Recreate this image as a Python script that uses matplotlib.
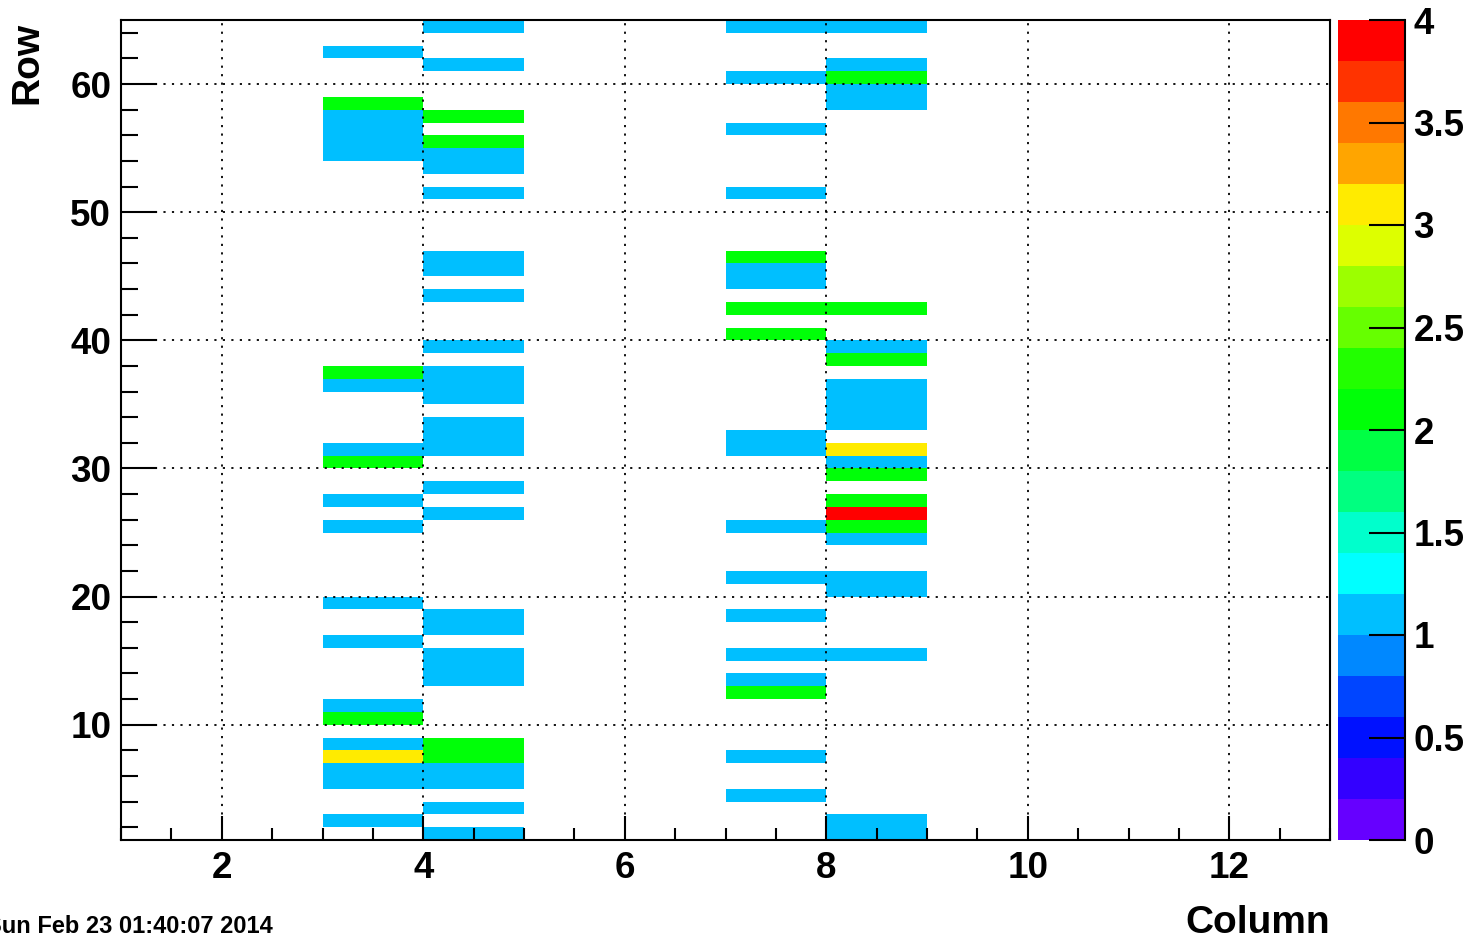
import matplotlib
matplotlib.use("Agg")
import matplotlib.pyplot as plt
import numpy as np
from matplotlib.colors import ListedColormap, BoundaryNorm
from matplotlib.ticker import MultipleLocator

# hits per (column, row) cell
col3_rows = [2, 5, 6, 7, 8, 10, 11, 16, 19, 25, 27, 30, 31, 36, 37, 54, 55, 56, 57, 58, 62]
col3_vals = [1, 1, 1, 3, 1, 2, 1, 1, 1, 1, 1, 2, 1, 1, 2, 1, 1, 1, 1, 2, 1]

col4_rows = [1, 3, 5, 6, 7, 8, 13, 14, 15, 17, 18, 26, 28, 31, 32, 33, 35, 36, 37,
             39, 43, 45, 46, 51, 53, 54, 55, 57, 61, 64]
col4_vals = [1, 1, 1, 1, 2, 2, 1, 1, 1, 1, 1, 1, 1, 1, 1, 1, 1, 1, 1,
             1, 1, 1, 1, 1, 1, 1, 2, 2, 1, 1]

col7_rows = [4, 7, 12, 13, 15, 18, 21, 25, 31, 32, 40, 42, 44, 45, 46, 51, 56, 60, 64]
col7_vals = [1, 1, 2, 1, 1, 1, 1, 1, 1, 1, 2, 2, 1, 1, 2, 1, 1, 1, 1]

col8_rows = [1, 2, 15, 20, 21, 24, 25, 26, 27, 29, 30, 31, 33, 34, 35, 36, 38, 39,
             42, 58, 59, 60, 61, 64]
col8_vals = [1, 1, 1, 1, 1, 1, 2, 4, 2, 2, 1, 3, 1, 1, 1, 1, 2, 1,
             2, 1, 1, 2, 1, 1]

columns = [3, 4, 7, 8]
x_edges = np.arange(1, 14)
y_edges = np.arange(1, 66)
levels = np.linspace(0, 4, 21)

# ROOT "pretty" palette, 20 contour bands
palette = ["#6600FF", "#3300FF", "#0011FF", "#0045FF", "#0088FF",
           "#00BFFF", "#00FFFF", "#00FFCC", "#00FF80", "#00FF44",
           "#00FF08", "#22FF00", "#66FF00", "#9CFF00", "#DDFF00",
           "#FFEB00", "#FFA500", "#FF7800", "#FF3300", "#FF0000"]

FONT = "Liberation Sans"
plt.rcParams["font.family"] = FONT
plt.rcParams["font.weight"] = "bold"

W, H = 1471, 939
fig = plt.figure(figsize=(W / 100, H / 100), dpi=100)
ax = fig.add_axes([121 / W, 1 - 840 / H, (1330 - 121) / W, (840 - 20) / H])
cax = fig.add_axes([1338 / W, 1 - 840 / H, (1405 - 1338) / W, (840 - 20) / H])

grid = np.full((len(y_edges) - 1, len(x_edges) - 1), np.nan)
for col, rows, vals in zip(columns,
                           [col3_rows, col4_rows, col7_rows, col8_rows],
                           [col3_vals, col4_vals, col7_vals, col8_vals]):
    for r, v in zip(rows, vals):
        grid[r - 1, col - 1] = v

cmap = ListedColormap(palette)
cmap.set_over(palette[-1])
norm = BoundaryNorm(levels, cmap.N)
mesh = ax.pcolormesh(x_edges, y_edges, grid, cmap=cmap, norm=norm)

ax.set_xlim(1, 13)
ax.set_ylim(1, 65)
ax.xaxis.set_major_locator(MultipleLocator(2))
ax.xaxis.set_minor_locator(MultipleLocator(0.5))
ax.yaxis.set_major_locator(MultipleLocator(10))
ax.yaxis.set_minor_locator(MultipleLocator(2))

ax.grid(True, which="major", color="black", linestyle=(0, (1.2, 3.5)), linewidth=1.3)
ax.set_axisbelow(False)

ax.tick_params(axis="x", which="major", direction="in", length=17, width=1.5,
               labelsize=26.5, pad=8, top=False)
ax.tick_params(axis="x", which="minor", direction="in", length=8.5, width=1.5, top=False)
ax.tick_params(axis="y", which="major", direction="in", length=26, width=1.5,
               labelsize=26.5, pad=7, right=False)
ax.tick_params(axis="y", which="minor", direction="in", length=12.5, width=1.5, right=False)
for lab in ax.get_xticklabels() + ax.get_yticklabels():
    lab.set_fontweight("bold")
for spine in ax.spines.values():
    spine.set_linewidth(1.5)

cb = fig.colorbar(mesh, cax=cax, boundaries=levels, ticks=np.arange(0, 4.01, 0.5))
cb.outline.set_visible(False)
cb.ax.set_yticklabels(["0", "0.5", "1", "1.5", "2", "2.5", "3", "3.5", "4"])
cb.ax.tick_params(direction="in", length=26, width=1.5, labelsize=26.5, pad=6, right=True)
cb.ax.minorticks_off()
for lab in cb.ax.get_yticklabels():
    lab.set_fontweight("bold")
cb.ax.plot([1, 1], [0, 1], transform=cb.ax.transAxes, color="black",
           linewidth=1.5, clip_on=False)

fig.text(27 / W, 1 - 22 / H, "Row", rotation=90, ha="center", va="top",
         fontsize=28, fontweight="bold")
fig.text(1330 / W, 1 - 933 / H, "Column", ha="right", va="baseline",
         fontsize=28, fontweight="bold")
fig.text(273 / W, 1 - 933 / H, "Sun Feb 23 01:40:07 2014", ha="right", va="baseline",
         fontsize=17, fontweight="bold")

fig.savefig("out.png", dpi=100)
